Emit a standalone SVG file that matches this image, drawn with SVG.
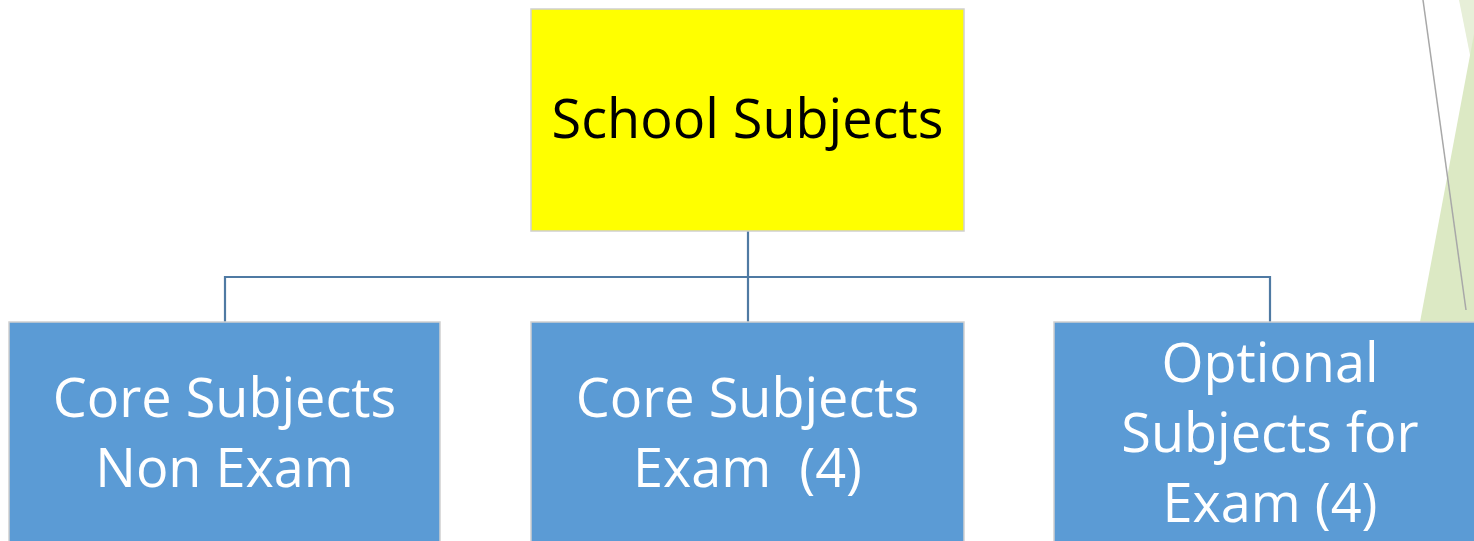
<svg xmlns="http://www.w3.org/2000/svg" width="1474" height="541" viewBox="0 0 1474 541">
<style>
.box{stroke:#d0d0d0;stroke-width:1.5}
.blue{fill:#5b9bd5}
.yellow{fill:#ffff00}
.t{font-family:"Open Sans","Liberation Sans",sans-serif;font-size:54px;text-anchor:middle}
.w{fill:#ffffff}
.k{fill:#000000}
.conn{fill:none;stroke:#4f7aa3;stroke-width:2.2}
</style>
<rect x="0" y="0" width="1474" height="541" fill="#ffffff"/>
<g id="decoration">
<polygon points="1459,0 1474,0 1474,75" fill="#e7efd8"/>
<polygon points="1474,34 1420,322 1474,322" fill="#dce9c4"/>
<line x1="1423" y1="0" x2="1466" y2="310" stroke="#a8a8a8" stroke-width="1.5"/>
</g>
<g id="connectors">
<path class="conn" d="M748,231 V277 M225,322 V277 H1270 V322 M748,277 V322"/>
</g>
<g id="school-subjects">
<rect class="box yellow" x="531" y="9" width="433" height="222"/>
<text class="t k" x="747.5" y="138">School Subjects</text>
</g>
<g id="core-non-exam">
<rect class="box blue" x="9" y="322" width="431" height="230"/>
<text class="t w" x="224.5" y="417">Core Subjects</text>
<text class="t w" x="224.5" y="487">Non Exam</text>
</g>
<g id="core-exam">
<rect class="box blue" x="531" y="322" width="433" height="230"/>
<text class="t w" x="747.5" y="417">Core Subjects</text>
<text class="t w" x="747.5" y="487" xml:space="preserve">Exam  (4)</text>
</g>
<g id="optional-exam">
<rect class="box blue" x="1054" y="322" width="432" height="230"/>
<text class="t w" x="1270" y="382">Optional</text>
<text class="t w" x="1270" y="452">Subjects for</text>
<text class="t w" x="1270" y="522">Exam (4)</text>
</g>
</svg>
